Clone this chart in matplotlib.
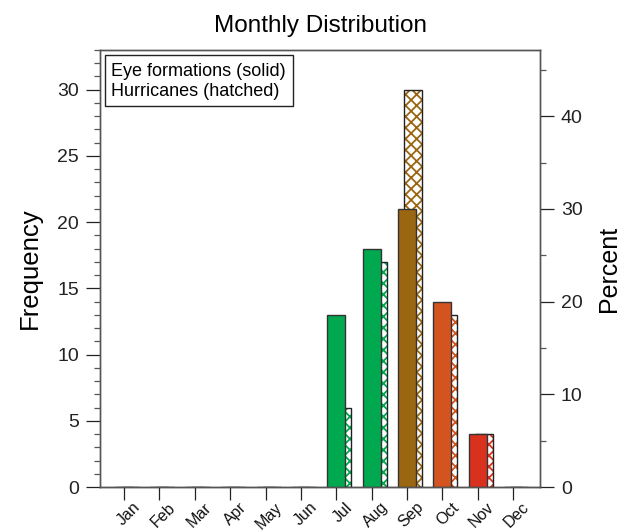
import matplotlib
matplotlib.use("Agg")
import matplotlib.pyplot as plt
from matplotlib.ticker import MultipleLocator
from matplotlib.transforms import ScaledTranslation
from matplotlib.patches import Rectangle
import numpy as np

months = ["Jan", "Feb", "Mar", "Apr", "May", "Jun", "Jul", "Aug", "Sep", "Oct", "Nov", "Dec"]
eye_formations = [0, 0, 0, 0, 0, 0, 13, 18, 21, 14, 4, 0]
hurricanes = [0, 0, 0, 0, 0, 0, 6, 17, 30, 13, 4, 0]
colors = ["#00a84f", "#00a84f", "#00a84f", "#00a84f", "#00a84f", "#00a84f",
          "#00a84f", "#00a84f", "#9b6612", "#d4541f", "#d8321f", "#d8321f"]

plt.rcParams["font.family"] = ["Liberation Sans", "DejaVu Sans"]
plt.rcParams["hatch.linewidth"] = 1.3

fig = plt.figure(figsize=(6.28, 5.32), dpi=100)
ax = fig.add_axes([100/628, 45/532, 440/628, 437/532])

x = np.arange(1, 13)
w = 0.51
off = 0.17
total = sum(hurricanes)

# hatched (hurricanes) behind
for xi, v, c in zip(x, hurricanes, colors):
    ax.bar(xi + off, v, width=w, color="white", edgecolor=c, hatch="xxx", linewidth=0, zorder=2)
    ax.bar(xi + off, v, width=w, fill=False, edgecolor="#222222", linewidth=1.0, zorder=2.1)
# solid (eye formations)
for xi, v, c in zip(x, eye_formations, colors):
    ax.bar(xi, v, width=w, color=c, edgecolor="#333333", linewidth=1.0, zorder=3)

ax.set_xlim(0.32, 12.76)
ax.set_ylim(0, 33)
ax.set_xticks(x)
ax.set_xticklabels([])
lab_tr = ax.get_xaxis_transform() + ScaledTranslation(14/100, -18/100, fig.dpi_scale_trans)
for xi, m in zip(x, months):
    ax.text(xi, 0, m, transform=lab_tr, rotation=45, ha="right", va="center",
            rotation_mode="anchor", fontsize=11.5, color="#111111", clip_on=False)

ax.yaxis.set_major_locator(MultipleLocator(5))
ax.yaxis.set_minor_locator(MultipleLocator(1))
ax.tick_params(axis="y", which="major", direction="out", length=10, width=0.9, labelsize=14, colors="#222222", pad=5)
ax.tick_params(axis="y", which="minor", direction="out", length=4.3, width=0.9, colors="#555555")
ax.tick_params(axis="x", which="major", direction="out", length=9.4, width=0.9, colors="#222222")
ax.set_ylabel("Frequency", fontsize=18.5, labelpad=11)
for s in ax.spines.values():
    s.set_color("#555555")
    s.set_linewidth(1.0)
ax.spines["bottom"].set_color("#222222")

ax2 = ax.twinx()
ax2.set_ylim(0, 33 * 100.0 / total)
ax2.yaxis.set_major_locator(MultipleLocator(10))
ax2.yaxis.set_minor_locator(MultipleLocator(5))
ax2.tick_params(axis="y", which="major", direction="out", length=10, width=0.9, labelsize=14, colors="#222222", pad=5)
ax2.tick_params(axis="y", which="minor", direction="out", length=4.3, width=0.9, colors="#555555")
ax2.set_ylabel("Percent", fontsize=18, labelpad=10)
for s in ax2.spines.values():
    s.set_color("#555555")
    s.set_linewidth(1.0)

ax.set_title("Monthly Distribution", fontsize=17.5, pad=13)

# legend box
ax.add_patch(Rectangle((5/440, (487-106)/437), (293-105)/440, (106-55)/437, transform=ax.transAxes,
                       facecolor="white", edgecolor="#222222", linewidth=1.0, zorder=5))
ax.text(10.7/440, (487-76)/437, "Eye formations (solid)", transform=ax.transAxes,
        fontsize=13, va="baseline", ha="left", zorder=6)
ax.text(10.7/440, (487-96)/437, "Hurricanes (hatched)", transform=ax.transAxes,
        fontsize=13, va="baseline", ha="left", zorder=6)

fig.savefig("out.png", dpi=100)
